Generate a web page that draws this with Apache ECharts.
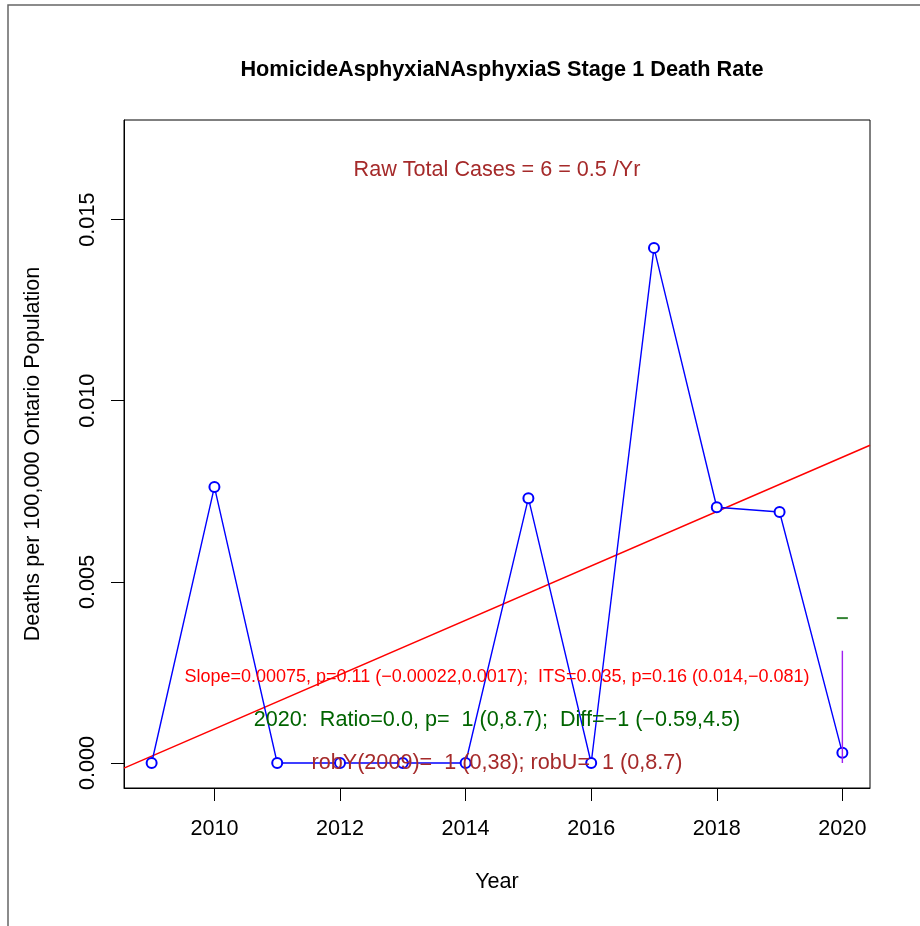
<!DOCTYPE html>
<html>
<head>
<meta charset="utf-8">
<script src="https://cdn.jsdelivr.net/npm/echarts@6/dist/echarts.min.js"></script>
<style>
  html, body { margin: 0; padding: 0; background: #fff; }
  #main { width: 920px; height: 926px; }
</style>
</head>
<body>
<div id="main"></div>
<script>
// yearly rates
const years = [2009, 2010, 2011, 2012, 2013, 2014, 2015, 2016, 2017, 2018, 2019, 2020]
const rates = [0, 0.00762, 0, 0, 0, 0, 0.00731, 0, 0.01422, 0.00706, 0.00693, 0.00028]
// fitted trend line, ends at the axis limits
const trendX = [2008.56, 2020.44]
const trendY = [-0.00014, 0.00877]
// 2020 interval (purple) and expected mark (green)
const ciX = [2020, 2020]
const ciY = [0, 0.0031]
const expected = [[2020, 0.0040]]
const xTicks = [2010, 2012, 2014, 2016, 2018, 2020]
const yTicks = [0, 0.005, 0.010, 0.015]

const FONT = '"Liberation Sans", Arial, sans-serif'
const FS = 21.6

const chart = echarts.init(document.getElementById('main'), null, { renderer: 'canvas' })

const option = {
  backgroundColor: '#fff',
  animation: false,
  title: {
    text: 'HomicideAsphyxiaNAsphyxiaS Stage 1 Death Rate',
    left: 497,
    top: 54,
    textAlign: 'center',
    textStyle: { fontFamily: FONT, fontSize: 21.7, fontWeight: 'bold', color: '#000' }
  },
  grid: {
    left: 124, right: 50, top: 120, bottom: 138,
    show: true, borderColor: '#000', borderWidth: 1, backgroundColor: 'transparent'
  },
  xAxis: {
    type: 'value',
    min: 2008.56,
    max: 2020.44,
    name: 'Year',
    nameLocation: 'middle',
    nameGap: 83,
    nameTextStyle: { fontFamily: FONT, fontSize: FS, color: '#000' },
    splitLine: { show: false },
    axisLine: { show: true, onZero: false, lineStyle: { color: '#000', width: 1 } },
    axisTick: { show: true, inside: false, length: 13, customValues: xTicks, lineStyle: { color: '#000' } },
    axisLabel: {
      customValues: xTicks, margin: 30, fontFamily: FONT, fontSize: FS, color: '#000',
      formatter: v => String(v)
    }
  },
  yAxis: {
    type: 'value',
    min: -0.00069,
    max: 0.01775,
    name: 'Deaths per 100,000 Ontario Population',
    nameLocation: 'middle',
    nameGap: 80,
    nameRotate: 90,
    nameTextStyle: { fontFamily: FONT, fontSize: FS, color: '#000' },
    splitLine: { show: false },
    axisLine: { show: true, onZero: false, lineStyle: { color: '#000', width: 1 } },
    axisTick: { show: true, inside: false, length: 13, customValues: yTicks, lineStyle: { color: '#000' } },
    axisLabel: {
      customValues: yTicks,
      rotate: 90,
      margin: 25,
      fontFamily: FONT, fontSize: FS, color: '#000',
      formatter: v => v.toFixed(3)
    }
  },
  graphic: [
    // outer device frame
    { type: 'rect', shape: { x: 8, y: 5, width: 940, height: 960 }, style: { fill: 'none', stroke: '#666', lineWidth: 1.5 }, silent: true },
    { type: 'text', x: 497, y: 170, style: { text: 'Raw Total Cases = 6 = 0.5 /Yr', fill: '#A52A2A', font: FS + 'px ' + FONT, textAlign: 'center', textVerticalAlign: 'middle' } },
    { type: 'text', x: 497, y: 677, z: 10, style: { text: 'Slope=0.00075, p=0.11 (\u22120.00022,0.0017);  ITS=0.035, p=0.16 (0.014,\u22120.081)', fill: '#FF0000', font: '18px ' + FONT, textAlign: 'center', textVerticalAlign: 'middle' } },
    { type: 'text', x: 497, y: 720, z: 10, style: { text: '2020:  Ratio=0.0, p=  1 (0,8.7);  Diff=\u22121 (\u22120.59,4.5)', fill: '#006400', font: FS + 'px ' + FONT, textAlign: 'center', textVerticalAlign: 'middle' } },
    { type: 'text', x: 497, y: 763, z: 10, style: { text: 'robY(2009)=  1 (0,38); robU=  1 (0,8.7)', fill: '#A52A2A', font: FS + 'px ' + FONT, textAlign: 'center', textVerticalAlign: 'middle' } }
  ],
  series: [
    {
      name: 'trend',
      type: 'line',
      data: trendX.map((x, i) => [x, trendY[i]]),
      symbol: 'none',
      lineStyle: { color: '#FF0000', width: 1.5 },
      z: 2
    },
    {
      name: 'rate',
      type: 'line',
      data: years.map((y, i) => [y, rates[i]]),
      symbol: 'emptyCircle',
      symbolSize: 10,
      itemStyle: { color: '#0000FF', borderColor: '#0000FF', borderWidth: 1.4 },
      lineStyle: { color: '#0000FF', width: 1.4 },
      z: 3
    },
    {
      name: 'ci',
      type: 'line',
      data: ciX.map((x, i) => [x, ciY[i]]),
      symbol: 'none',
      lineStyle: { color: '#A020F0', width: 1.4 },
      z: 4
    },
    {
      name: 'expected',
      type: 'scatter',
      data: expected,
      symbol: 'rect',
      symbolSize: [11, 2],
      itemStyle: { color: '#006400' },
      z: 4
    }
  ]
}

chart.setOption(option)
</script>
</body>
</html>
